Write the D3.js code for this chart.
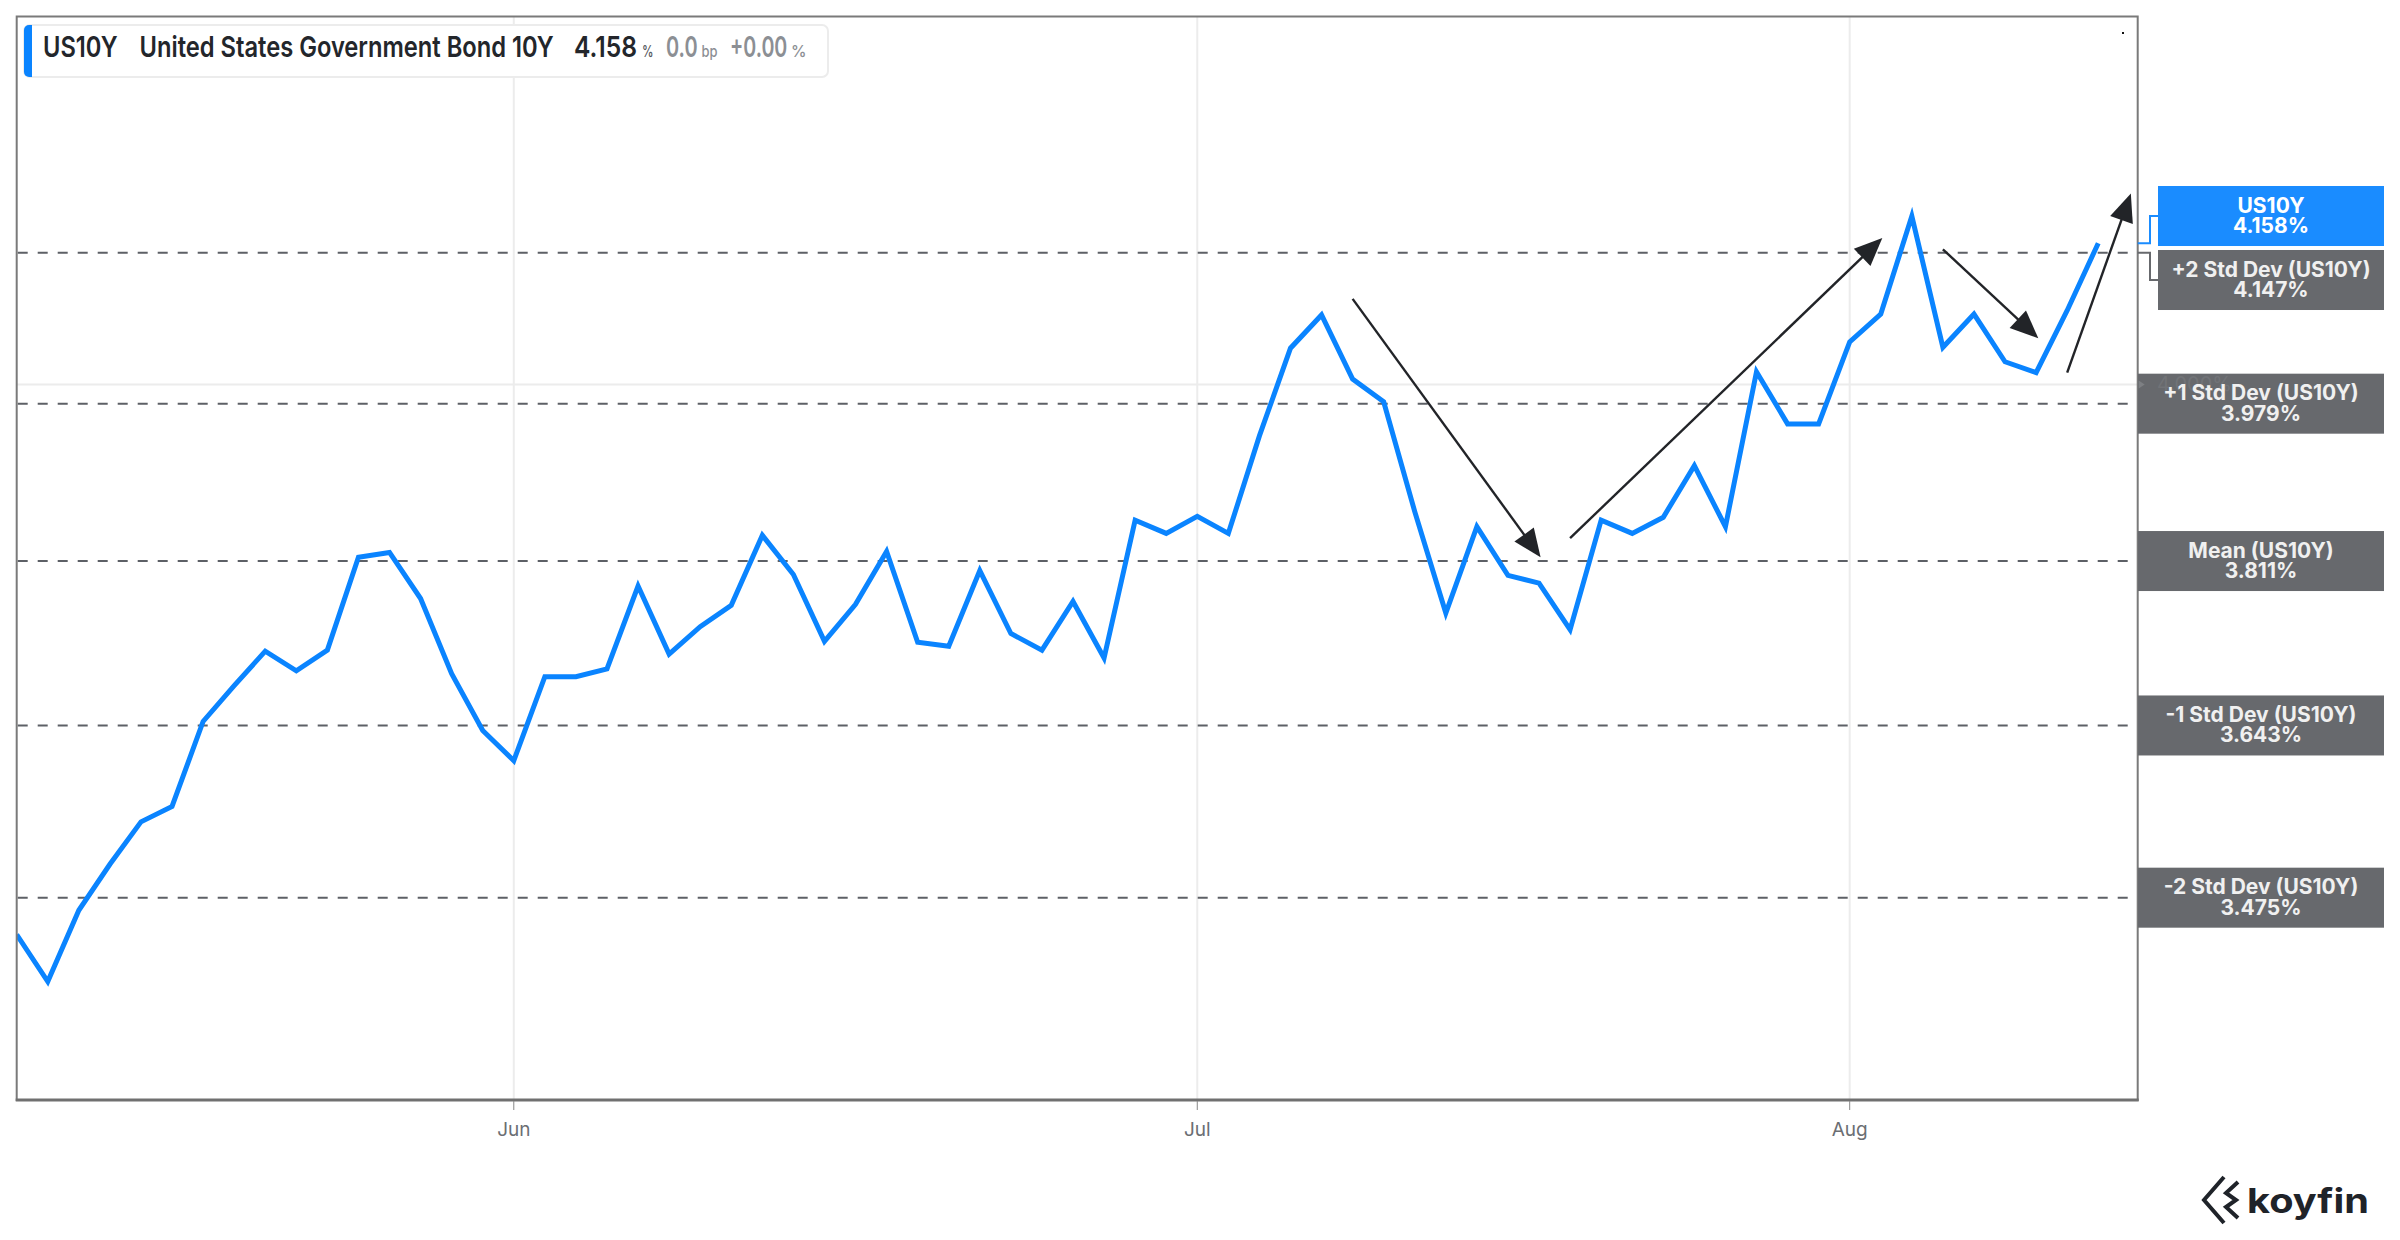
<!DOCTYPE html>
<html><head><meta charset="utf-8">
<script src="https://cdn.jsdelivr.net/npm/d3@7/dist/d3.min.js"></script>
<style>html,body{margin:0;padding:0;background:#fff;} svg{display:block;font-family:Inter,"Noto Sans",sans-serif;}</style>
</head><body><svg id="chart" width="2400" height="1240"></svg>
<script>
// ---- data (US 10Y yield, weekdays) ----
const dates = [
 "2023-05-10","2023-05-11","2023-05-12","2023-05-15","2023-05-16","2023-05-17","2023-05-18","2023-05-19",
 "2023-05-22","2023-05-23","2023-05-24","2023-05-25","2023-05-26","2023-05-29","2023-05-30","2023-05-31",
 "2023-06-01","2023-06-02","2023-06-05","2023-06-06","2023-06-07","2023-06-08","2023-06-09","2023-06-12",
 "2023-06-13","2023-06-14","2023-06-15","2023-06-16","2023-06-19","2023-06-20","2023-06-21","2023-06-22",
 "2023-06-23","2023-06-26","2023-06-27","2023-06-28","2023-06-29","2023-06-30","2023-07-03","2023-07-04",
 "2023-07-05","2023-07-06","2023-07-07","2023-07-10","2023-07-11","2023-07-12","2023-07-13","2023-07-14",
 "2023-07-17","2023-07-18","2023-07-19","2023-07-20","2023-07-21","2023-07-24","2023-07-25","2023-07-26",
 "2023-07-27","2023-07-28","2023-07-31","2023-08-01","2023-08-02","2023-08-03","2023-08-04","2023-08-07",
 "2023-08-08","2023-08-09","2023-08-10","2023-08-11"
];
const yields = [
 3.440,3.396,3.463,3.507,3.548,3.563,3.647,3.683,3.718,3.698,3.719,3.815,3.820,3.772,3.695,3.638,
 3.608,3.692,3.692,3.700,3.785,3.715,3.743,3.765,3.838,3.797,3.728,3.766,3.821,3.727,3.723,3.801,
 3.736,3.719,3.769,3.711,3.854,3.840,3.858,3.840,3.944,4.040,4.077,4.006,3.981,3.863,3.757,3.847,
 3.796,3.788,3.740,3.854,3.840,3.857,3.912,3.847,4.014,3.957,3.957,4.047,4.078,4.189,4.041,4.078,
 4.025,4.013,4.082,4.158
];
const tickDates = ["2023-06-01","2023-07-03","2023-08-01"];
const tickLabels = ["Jun","Jul","Aug"];
const bandLabels = ["+2 Std Dev (US10Y)","+1 Std Dev (US10Y)","Mean (US10Y)","-1 Std Dev (US10Y)","-2 Std Dev (US10Y)"];
const bandValues = [4.147,3.979,3.811,3.643,3.475];
const gridValues = [4.0];
const gridLabels = ["4.000%"];
// annotation arrows (weekday index, yield)
const arrowStartIdx = [43.0, 50.0, 62.0, 66.0];
const arrowStartVal = [4.095, 3.835, 4.151, 4.013];
const arrowEndIdx   = [49.05, 60.05, 65.07, 68.05];
const arrowEndVal   = [3.815, 4.164, 4.051, 4.215];
const seriesName = "US10Y";
const seriesTitle = "United States Government Bond 10Y";

// ---- layout ----
const L = 16.7, R = 2137.7, T = 16.5, B = 1100;
const BLUE = "#0a84ff", BOXBLUE = "#1a8cff", GRAY = "#67696d";
const svg = d3.select("#chart");
const x = d3.scaleLinear().domain([0, 68.27]).range([L, R]);
const y = d3.scaleLog().domain([3.2875, 4.4246]).range([B, T]);

svg.append("defs").append("clipPath").attr("id","plot")
  .append("rect").attr("x",L).attr("y",T).attr("width",R-L).attr("height",B-T);

// gridlines
svg.append("g").selectAll("line").data(tickDates).join("line")
  .attr("x1", d=>x(dates.indexOf(d))).attr("x2", d=>x(dates.indexOf(d)))
  .attr("y1", T).attr("y2", B).attr("stroke","#ececec").attr("stroke-width",2);
svg.append("g").selectAll("line").data(gridValues).join("line")
  .attr("x1", L).attr("x2", R).attr("y1", d=>y(d)).attr("y2", d=>y(d))
  .attr("stroke","#ececec").attr("stroke-width",2);

// std dev dashed lines
svg.append("g").selectAll("line").data(bandValues).join("line")
  .attr("x1", L+1).attr("x2", R).attr("y1", d=>y(d)).attr("y2", d=>y(d))
  .attr("stroke","#5d6066").attr("stroke-width",2).attr("stroke-dasharray","10,10");

// series line
const line = d3.line().x((d,i)=>x(i)).y(d=>y(d)).curve(d3.curveLinear);
svg.append("path").datum(yields).attr("clip-path","url(#plot)")
  .attr("d", line).attr("fill","none").attr("stroke",BLUE).attr("stroke-width",5)
  .attr("stroke-linejoin","miter").attr("stroke-miterlimit",4);

// arrows
const ag = svg.append("g");
arrowStartIdx.forEach((s,i)=>{
  const x0=x(s), y0=y(arrowStartVal[i]), x1=x(arrowEndIdx[i]), y1=y(arrowEndVal[i]);
  const dx=x1-x0, dy=y1-y0, len=Math.hypot(dx,dy), ux=dx/len, uy=dy/len;
  const hl=28, hw=12;
  const bx=x1-ux*hl, by=y1-uy*hl;
  ag.append("line").attr("x1",x0).attr("y1",y0).attr("x2",bx+ux*4).attr("y2",by+uy*4)
    .attr("stroke","#222428").attr("stroke-width",2.4);
  ag.append("path").attr("d",`M${x1},${y1}L${bx-uy*hw},${by+ux*hw}L${bx+uy*hw},${by-ux*hw}Z`)
    .attr("fill","#222428");
});

// frame
svg.append("rect").attr("x",L).attr("y",T).attr("width",R-L).attr("height",B-T)
  .attr("fill","none").attr("stroke","#7a7a7a").attr("stroke-width",2);
svg.append("line").attr("x1",L-1).attr("x2",R+1).attr("y1",B).attr("y2",B)
  .attr("stroke","#707070").attr("stroke-width",3);
svg.append("rect").attr("x",2122).attr("y",32).attr("width",2).attr("height",2).attr("fill","#111");

// x axis ticks
const xg = svg.append("g");
xg.selectAll("line").data(tickDates).join("line")
  .attr("x1", d=>x(dates.indexOf(d))).attr("x2", d=>x(dates.indexOf(d)))
  .attr("y1", B+1).attr("y2", B+10).attr("stroke","#888").attr("stroke-width",1);
xg.selectAll("text").data(tickDates).join("text")
  .attr("x", d=>x(dates.indexOf(d))).attr("y", 1136)
  .attr("text-anchor","middle").attr("font-size",19).attr("fill","#6b6e73")
  .text((d,i)=>tickLabels[i]);

// right-hand value labels
const items = [{label:seriesName, value:yields[yields.length-1], color:BOXBLUE, text:"#ffffff"}]
  .concat(bandValues.map((v,i)=>({label:bandLabels[i], value:v, color:GRAY, text:"#f0f0f0"})));
const BH = 60, GAP = 4;
items.forEach(d=>{ d.ty = y(d.value); d.c = d.ty; });
items.sort((a,b)=>a.ty-b.ty);
for (let k=0;k<10;k++){
  for (let i=1;i<items.length;i++){
    const a=items[i-1], b=items[i];
    if (b.c - a.c < BH+GAP){
      const m=(a.c+b.c)/2; a.c=m-(BH+GAP)/2; b.c=m+(BH+GAP)/2;
    }
  }
}
const rg = svg.append("g");
items.forEach(d=>{
  const moved = Math.abs(d.c-d.ty) > 0.5;
  const bx = moved ? 2158 : 2138;
  if (moved){
    rg.append("path").attr("d",`M${R},${d.ty}H2150V${d.c}H${bx}`)
      .attr("fill","none").attr("stroke",d.color).attr("stroke-width",2);
  }
  rg.append("rect").attr("x",bx).attr("y",d.c-BH/2).attr("width",2384-bx).attr("height",BH).attr("fill",d.color);
});

// y grid tick marker + faint label (sits under the label texts, as in the reference)
const gl = svg.append("g");
gridValues.forEach((v,i)=>{
  gl.append("path").attr("d",`M${R+1},${y(v)-4}l6,4l-6,4Z`).attr("fill","#7d7f83");
  gl.append("text").attr("x",2157).attr("y",y(v)+7).attr("font-size",20).attr("fill","#717377")
    .text(gridLabels[i]);
});

const tg = svg.append("g");
items.forEach(d=>{
  const moved = Math.abs(d.c-d.ty) > 0.5;
  const bx = moved ? 2158 : 2138;
  const cx = (bx+2384)/2;
  tg.append("text").attr("x",cx).attr("y",d.c-3.5).attr("text-anchor","middle")
    .attr("font-size",21).attr("font-weight",700).attr("fill",d.text).text(d.label);
  tg.append("text").attr("x",cx).attr("y",d.c+17).attr("text-anchor","middle")
    .attr("font-size",21).attr("font-weight",700).attr("fill",d.text).text(d.value.toFixed(3)+"%");
});

// legend
const lg = svg.append("g");
lg.append("rect").attr("x",24).attr("y",25).attr("width",804).attr("height",52).attr("rx",6)
  .attr("fill","#fff").attr("stroke","#ececec").attr("stroke-width",2);
lg.append("path").attr("d","M32,25H29a5,5 0 0 0 -5,5V72a5,5 0 0 0 5,5H32Z").attr("fill",BLUE);
const leg = [
  {t:seriesName, x:43, w:74.6, fs:29, fw:600, c:"#23262b"},
  {t:seriesTitle, x:139.5, w:414.5, fs:29, fw:600, c:"#23262b"},
  {t:"4.158", x:574, w:63, fs:29, fw:600, c:"#23262b"},
  {t:"%", x:642, w:11.5, fs:16, fw:500, c:"#55585d"},
  {t:"0.0", x:666, w:31.6, fs:29, fw:600, c:"#8c8f94"},
  {t:"bp", x:701.5, w:16, fs:16, fw:500, c:"#8c8f94"},
  {t:"+0.00", x:730, w:57.4, fs:29, fw:600, c:"#8c8f94"},
  {t:"%", x:791, w:15.5, fs:16, fw:500, c:"#8c8f94"}
];
// condensed text: scale horizontally to the widths measured on the reference
function condensed(parent, t, px, py, w, fs, fw, c){
  const g = parent.append("g");
  const el = g.append("text").attr("x",0).attr("y",0).attr("font-size",fs).attr("font-weight",fw)
    .attr("fill",c).text(t);
  const nat = el.node().getComputedTextLength() || w;
  g.attr("transform",`translate(${px},${py}) scale(${w/nat},1)`);
}
leg.forEach(d=>condensed(lg, d.t, d.x, 57, d.w, d.fs, d.fw, d.c));

// koyfin logo
const logo = svg.append("g");
logo.append("path").attr("d","M2224,1177L2204,1200L2224,1223").attr("fill","none")
  .attr("stroke","#1f2329").attr("stroke-width",4).attr("stroke-linejoin","miter");
logo.append("path").attr("d","M2238,1182L2226,1193L2236,1200L2226,1207L2238,1218").attr("fill","none")
  .attr("stroke","#1f2329").attr("stroke-width",4).attr("stroke-linejoin","miter");
condensed(logo, "koyfin", 2247, 1213, 122, 34, 700, "#1f2329");
</script></body></html>
